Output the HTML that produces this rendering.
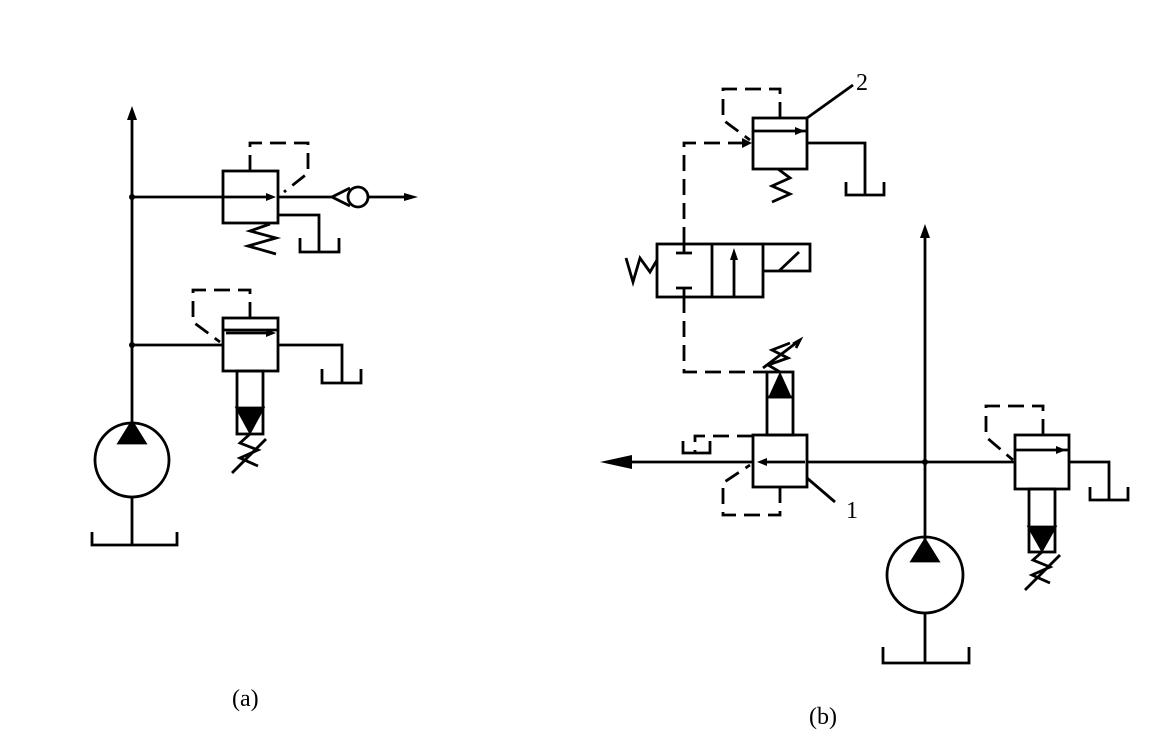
<!DOCTYPE html>
<html><head><meta charset="utf-8"><style>html,body{margin:0;padding:0;background:#fff}</style></head>
<body>
<svg width="1159" height="738" viewBox="0 0 1159 738" xmlns="http://www.w3.org/2000/svg" font-family="Liberation Serif, serif">
<g fill="none" stroke="#000" stroke-width="2.8">
<!-- (a) -->
<line x1="132" y1="422" x2="132" y2="116"/>
<path d="M127,120 L132,106 L137,120 Z" fill="#000" stroke="none"/>
<circle cx="132" cy="197" r="3" fill="#000" stroke="none"/>
<circle cx="132" cy="345" r="3" fill="#000" stroke="none"/>
<rect x="223" y="171" width="55" height="52"/>
<line x1="132" y1="197" x2="272" y2="197"/>
<path d="M266,193 L276,197 L266,201 Z" fill="#000" stroke="none"/>
<line x1="278" y1="197" x2="332" y2="197"/>
<path d="M332,197 L350,188 M332,197 L350,206"/>
<circle cx="358" cy="197" r="10"/>
<line x1="368" y1="197" x2="410" y2="197"/>
<path d="M404,193 L418,197 L404,201 Z" fill="#000" stroke="none"/>
<path d="M250,171 V143 H308 V173 L284,192" stroke-dasharray="16,8"/>
<path d="M278,215 H319 V252 M300,238 V252 H339 V238"/>
<path d="M270,224 L250,231 L276,238 L248,246 L276,254"/>
<rect x="223" y="318" width="55" height="53"/>
<line x1="223" y1="330" x2="278" y2="330"/>
<line x1="226" y1="333" x2="270" y2="333"/>
<path d="M266,329 L276,333 L266,337 Z" fill="#000" stroke="none"/>
<line x1="132" y1="345" x2="223" y2="345"/>
<path d="M278,345 H342 V383 M322,369 V383 H361 V369"/>
<path d="M250,318 V290 H193 V322 L220,342" stroke-dasharray="16,8"/>
<rect x="237" y="371" width="26" height="63"/>
<path d="M237,408 H263 L250,432 Z" fill="#000"/>
<path d="M250,434 L240,443 L258,450 L240,458 L258,466"/>
<line x1="232" y1="473" x2="266" y2="439"/>
<circle cx="132" cy="460" r="37"/>
<path d="M119,443 L132,422 L145,443 Z" fill="#000"/>
<path d="M132,497 V545 M92,532 V545 H177 V532"/>

<!-- (b) valve 2 -->
<rect x="753" y="118" width="54" height="51"/>
<line x1="753" y1="131" x2="807" y2="131"/>
<path d="M795,127 L805,131 L795,135 Z" fill="#000" stroke="none"/>
<path d="M780,118 V89 H723 V120 L750,140" stroke-dasharray="16,8"/>
<path d="M684,243 V143 H748" stroke-dasharray="16,8"/>
<path d="M742,138 L752,143 L742,148 Z" fill="#000" stroke="none"/>
<path d="M807,143 H865 V195 M846,182 V195 H884 V182"/>
<path d="M778,169 L790,178 L772,186 L790,194 L772,202"/>
<line x1="807" y1="118" x2="853" y2="85"/>
<rect x="657" y="244" width="106" height="53"/>
<line x1="712" y1="244" x2="712" y2="297"/>
<line x1="734" y1="297" x2="734" y2="254"/>
<path d="M730,260 L734,248 L738,260 Z" fill="#000" stroke="none"/>
<path d="M763,244 H810 V271 H763"/>
<line x1="779" y1="271" x2="799" y2="252"/>
<path d="M684,244 V253 M676,253 H692 M676,288 H692 M684,288 V297"/>
<path d="M657,260 L650,272 L640,258 L633,282 L626,258"/>
<path d="M684,297 V372 H767" stroke-dasharray="16,8"/>
<rect x="767" y="372" width="26" height="63"/>
<path d="M770,397 L780,375 L790,397 Z" fill="#000"/>
<line x1="767" y1="397" x2="793" y2="397"/>
<path d="M780,372 L768,365 L788,358 L772,350 L790,343"/>
<line x1="763" y1="368" x2="800" y2="340"/>
<path d="M793,344 L800,340 L796,348" />
<rect x="753" y="435" width="54" height="52"/>
<line x1="632" y1="462" x2="753" y2="462"/>
<path d="M600,462 L632,455 L632,469 Z" fill="#000" stroke="none"/>
<line x1="807" y1="462" x2="1015" y2="462"/>
<line x1="805" y1="462" x2="763" y2="462"/>
<path d="M767,458 L757,462 L767,466 Z" fill="#000" stroke="none"/>
<path d="M753,436 H695 V453" stroke-dasharray="16,8"/>
<path d="M683,441 V453 H710 V441"/>
<path d="M780,487 V515 H723 V483 L750,465" stroke-dasharray="16,8"/>
<line x1="807" y1="478" x2="835" y2="502"/>
<line x1="925" y1="540" x2="925" y2="234"/>
<path d="M920,238 L925,224 L930,238 Z" fill="#000" stroke="none"/>
<circle cx="925" cy="462" r="3" fill="#000" stroke="none"/>
<circle cx="925" cy="575" r="38"/>
<path d="M912,561 L925,540 L938,561 Z" fill="#000"/>
<path d="M925,613 V663 M883,647 V663 H969 V647"/>
<rect x="1015" y="435" width="54" height="54"/>
<line x1="1015" y1="450" x2="1069" y2="450"/>
<path d="M1056,446 L1066,450 L1056,454 Z" fill="#000" stroke="none"/>
<path d="M1069,462 H1109 V500 M1090,487 V500 H1128 V487"/>
<path d="M1043,435 V406 H986 V437 L1013,460" stroke-dasharray="16,8"/>
<rect x="1029" y="489" width="26" height="63"/>
<path d="M1029,527 H1055 L1042,550 Z" fill="#000"/>
<path d="M1042,552 L1033,560 L1050,567 L1032,575 L1050,583"/>
<line x1="1025" y1="590" x2="1060" y2="555"/>
</g>
<g font-size="24" fill="#000">
<text x="232" y="706">(a)</text>
<text x="809" y="724">(b)</text>
<text x="856" y="90">2</text>
<text x="846" y="518">1</text>
</g>
</svg>
</body></html>
